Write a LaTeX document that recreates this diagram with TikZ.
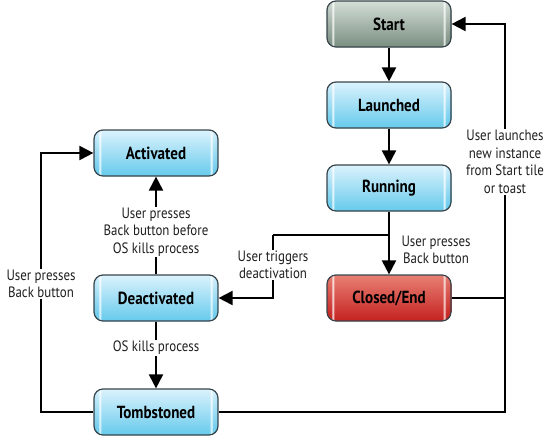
\documentclass[tikz,border=0pt]{standalone}
\usepackage{fontspec}
\setmainfont{PT Sans}[FakeStretch=0.86]
\usepackage{tikz}
\usetikzlibrary{arrows.meta}
\definecolor{boxline}{rgb}{0.22,0.27,0.30}
\definecolor{boxtext}{rgb}{0.12,0.12,0.12}
\definecolor{bluetop}{rgb}{0.86,0.95,0.99}
\definecolor{bluebot}{rgb}{0.36,0.78,0.92}
\definecolor{greytop}{rgb}{0.83,0.87,0.84}
\definecolor{greybot}{rgb}{0.45,0.53,0.48}
\definecolor{redtop}{rgb}{0.91,0.50,0.45}
\definecolor{redbot}{rgb}{0.76,0.10,0.10}
\tikzset{
	grad/.style 2 args={path picture={
		\foreach \i in {0,...,49}{
			\pgfmathsetmacro\pct{100-\i*2}
			\fill[#1!\pct!#2] ([yshift=-\i pt]path picture bounding box.north west) rectangle ([yshift=-\i pt-1.2pt]path picture bounding box.north east);
		}}},
	state/.style={draw=boxline,line width=1.2pt,rounded corners=9pt,minimum width=124pt,minimum height=46pt,
		font=\fontsize{17.5}{19}\selectfont\bfseries,text=black,grad={bluetop}{bluebot}},
	lbl/.style={font=\fontsize{15}{17.5}\selectfont,text=boxtext,align=center,inner sep=1pt},
	arr/.style={line width=2pt,-{Triangle[length=14pt,width=14pt]}},
	wire/.style={line width=2pt}
}

\begin{document}
\begin{tikzpicture}[x=1pt,y=-1pt]
		
		\useasboundingbox (0,0) rectangle (550,437);
		\node[state,grad={greytop}{greybot}] (start) at (389,24){Start};
		\node[state] (launched) at (389,105){Launched};
		\node[state] (running) at (389,188){Running};
		\node[state,grad={redtop}{redbot}] (closed) at (389,298){Closed/End};
		\node[state] (activated) at (156,153){Activated};
		\node[state] (deactivated) at (156,298){Deactivated};
		\node[state] (tombstoned) at (156,412){Tombstoned};
		\coordinate (split) at (389,235);
		\coordinate (turn) at (273,235);
		\coordinate (rturn) at (505,298);
		\coordinate (lturn) at (41,412);
		
		\draw[arr] (start) -- (launched);
		\draw[arr] (launched) -- (running);
		\draw[arr] (running) -- (closed);
		\draw[wire] (split) -- (turn);
		\draw[arr] (turn) |- (deactivated);
		\draw[arr] (closed) -- (rturn) |- (start);
		\draw[wire] (tombstoned) -| (rturn);
		\draw[arr] (tombstoned) -- (lturn) |- (activated);
		\draw[arr] (deactivated) -- (activated);
		\draw[arr] (deactivated) -- (tombstoned);
		
		\node[lbl,fill=white] (launchlab) at (505,162){User launches\\new instance\\from Start tile\\or toast};
		\node[lbl] (backlab) at (436,250){User presses\\Back button};
		\node[lbl,fill=white] (triglab) at (273,265){User triggers\\deactivation};
		\node[lbl,fill=white] (beforelab) at (156,232){User presses\\Back button before\\OS kills process};
		\node[lbl,fill=white] (killlab) at (156,348){OS kills process};
		\node[lbl,fill=white] (leftlab) at (41,284){User presses\\Back button};
		
\end{tikzpicture}
\end{document}
